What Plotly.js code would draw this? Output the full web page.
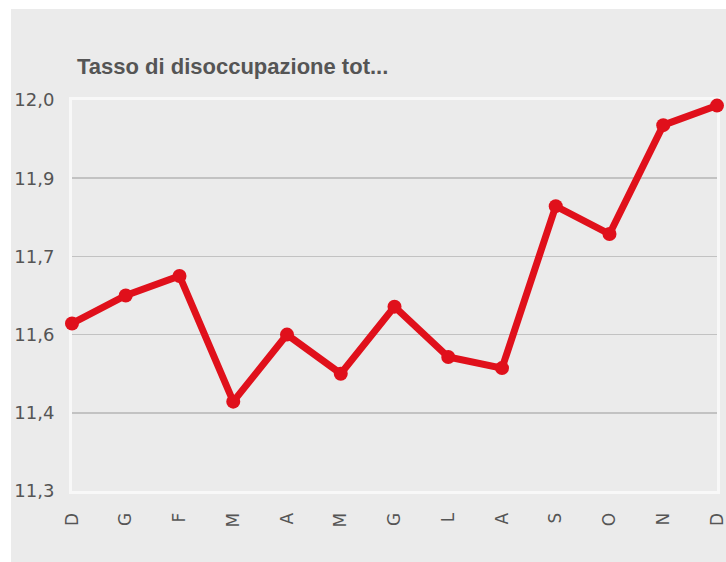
<!DOCTYPE html>
<html>
<head>
<meta charset="utf-8">
<script src="https://cdn.plot.ly/plotly-3.0.1.min.js"></script>
<style>
html,body{margin:0;padding:0;background:#ffffff;}
#chart{position:absolute;left:11px;top:9px;width:715px;height:553px;}
</style>
</head>
<body>
<div id="chart"></div>
<script>
const months = ["D","G","F","M","A","M","G","L","A","S","O","N","D"];
const rate = [11.60, 11.65, 11.685, 11.46, 11.58, 11.51, 11.63, 11.54, 11.52, 11.81, 11.76, 11.955, 11.99];
const yTicks = [11.3, 11.44, 11.58, 11.72, 11.86, 12.0];
const titleText = "Tasso di disoccupazione tot...";

const xIdx = months.map((_, i) => i);

const trace = {
  x: xIdx,
  y: rate,
  type: "scatter",
  mode: "lines+markers",
  line: {color: "#e0101b", width: 7},
  marker: {color: "#e0101b", size: 14},
  hoverinfo: "none",
  cliponaxis: false
};

const layout = {
  width: 715,
  height: 553,
  paper_bgcolor: "#ebebeb",
  plot_bgcolor: "#ebebeb",
  separators: ",.",
  margin: {l: 61, r: 9, t: 91, b: 71},
  showlegend: false,
  font: {family: "DejaVu Sans, Verdana, sans-serif", size: 13, color: "#555555"},
  title: {
    text: titleText,
    x: 66/715, xref: "container", xanchor: "left",
    y: 1 - 57/553, yref: "container", yanchor: "middle",
    font: {family: "Liberation Sans, Arial, sans-serif", size: 22, color: "#555555", weight: "bold"}
  },
  xaxis: {
    range: [0, 12],
    tickmode: "array",
    tickvals: xIdx,
    ticktext: months,
    tickangle: -90,
    showgrid: false,
    zeroline: false,
    showline: true,
    linecolor: "#f8f8f8",
    linewidth: 3,
    mirror: true,
    layer: "below traces",
    ticks: "",
    ticklabelstandoff: 12,
    ticklabeloverflow: "allow",
    tickfont: {size: 17, color: "#555555"}
  },
  yaxis: {
    range: [11.3, 12.0],
    tickmode: "array",
    tickvals: yTicks,
    tickformat: ".1f",
    showgrid: true,
    gridcolor: "#c2c2c2",
    gridwidth: 1.5,
    zeroline: false,
    showline: true,
    linecolor: "#f8f8f8",
    linewidth: 3,
    mirror: true,
    layer: "below traces",
    ticks: "",
    ticklabelstandoff: 11,
    ticklabeloverflow: "allow",
    tickfont: {size: 18, color: "#555555"}
  }
};

Plotly.newPlot("chart", [trace], layout, {displayModeBar: false, staticPlot: true});
</script>
</body>
</html>
